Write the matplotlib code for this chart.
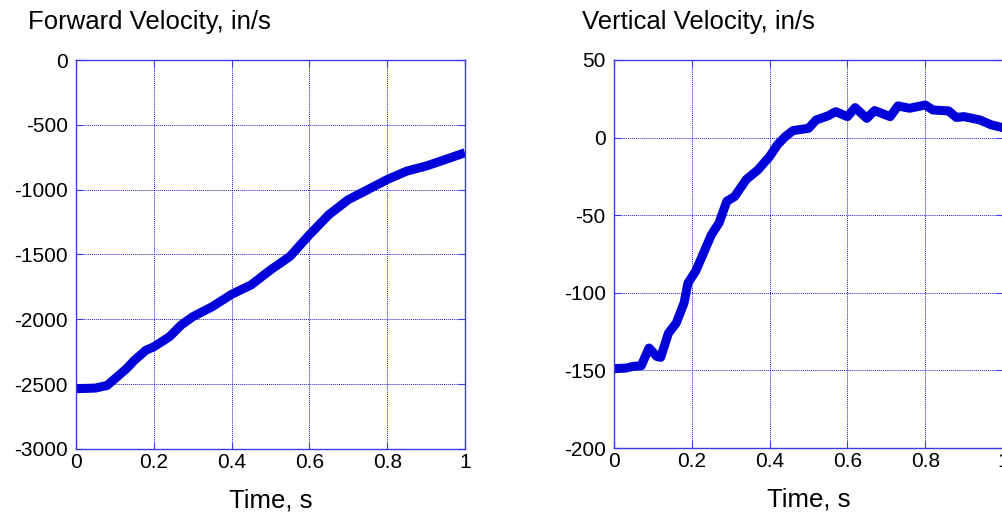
import matplotlib
matplotlib.use("Agg")
import matplotlib.pyplot as plt

plt.rcParams['font.family'] = ['Liberation Sans', 'DejaVu Sans']

# Forward velocity (in/s) against time (s)
t_fwd = [0.0, 0.05, 0.08, 0.10, 0.13, 0.15, 0.18, 0.20, 0.24, 0.27, 0.30,
         0.35, 0.40, 0.45, 0.50, 0.55, 0.60, 0.65, 0.70, 0.75, 0.80, 0.85,
         0.90, 0.95, 1.00]
v_fwd = [-2535, -2530, -2510, -2458, -2380, -2316, -2238, -2212, -2135,
         -2045, -1980, -1903, -1807, -1735, -1619, -1515, -1348, -1193,
         -1077, -1000, -922, -857, -818, -767, -715]

# Vertical velocity (in/s) against time (s)
t_vert = [0.0, 0.03, 0.05, 0.07, 0.09, 0.11, 0.12, 0.14, 0.16, 0.18, 0.19,
          0.21, 0.23, 0.25, 0.27, 0.29, 0.31, 0.34, 0.37, 0.40, 0.42, 0.44,
          0.46, 0.50, 0.52, 0.55, 0.57, 0.60, 0.62, 0.65, 0.67, 0.71, 0.73,
          0.76, 0.80, 0.82, 0.86, 0.88, 0.90, 0.94, 0.97, 1.00]
v_vert = [-148.9, -148.5, -147.4, -147.0, -135.6, -141.0, -141.6, -126.0,
          -119.5, -106.6, -93.8, -86.0, -74.5, -62.7, -55.0, -41.0, -38.0,
          -27.0, -20.8, -12.2, -4.7, 0.6, 4.5, 6.0, 11.4, 14.0, 16.7, 13.5,
          19.3, 12.4, 17.4, 13.5, 20.4, 18.9, 21.0, 17.8, 17.2, 13.0, 13.5,
          11.4, 8.2, 6.4]

x_ticks = [0, 0.2, 0.4, 0.6, 0.8, 1]
x_ticklabels = ['0', '0.2', '0.4', '0.6', '0.8', '1']
fwd_ticks = [0, -500, -1000, -1500, -2000, -2500, -3000]
vert_ticks = [50, 0, -50, -100, -150, -200]

line_col = '#0000d8'
axis_col = '#3a3ae0'

W, H = 1003, 516
fig = plt.figure(figsize=(W / 100, H / 100), dpi=100)
ax0 = fig.add_axes([76 / W, 1 - 449 / H, 389 / W, 389 / H])
ax1 = fig.add_axes([614 / W, 1 - 448 / H, 389 / W, 388 / H])


def style_axes(ax, yticks, ylim):
    ax.set_xlim(0, 1)
    ax.set_ylim(*ylim)
    ax.set_xticks(x_ticks)
    ax.set_xticklabels(x_ticklabels)
    ax.set_yticks(yticks)
    ax.set_yticklabels([str(v) for v in yticks])
    ax.tick_params(direction='in', length=5, width=0.8, color=axis_col,
                   labelsize=15, top=True, right=True, pad=6)
    ax.tick_params(axis='x', pad=3)
    for s in ax.spines.values():
        s.set_color(axis_col)
        s.set_linewidth(1.0)
    ax.grid(True, color='#2020d0', linestyle=(0, (1, 1)), linewidth=0.7)
    ax.set_axisbelow(True)
    ax.set_xlabel('Time, s', fontsize=18.5, labelpad=12)


ax0.plot(t_fwd, v_fwd, color=line_col, linewidth=6.5, solid_capstyle='butt')
style_axes(ax0, fwd_ticks, (-3000, 0))

ax1.plot(t_vert, v_vert, color=line_col, linewidth=6.5, solid_capstyle='butt')
style_axes(ax1, vert_ticks, (-200, 50))

fig.text(28 / W, 1 - 22 / H, 'Forward Velocity, in/s', fontsize=18.5,
         ha='left', va='center')
fig.text(582 / W, 1 - 22 / H, 'Vertical Velocity, in/s', fontsize=18.5,
         ha='left', va='center')

fig.savefig('out.png', dpi=100)
